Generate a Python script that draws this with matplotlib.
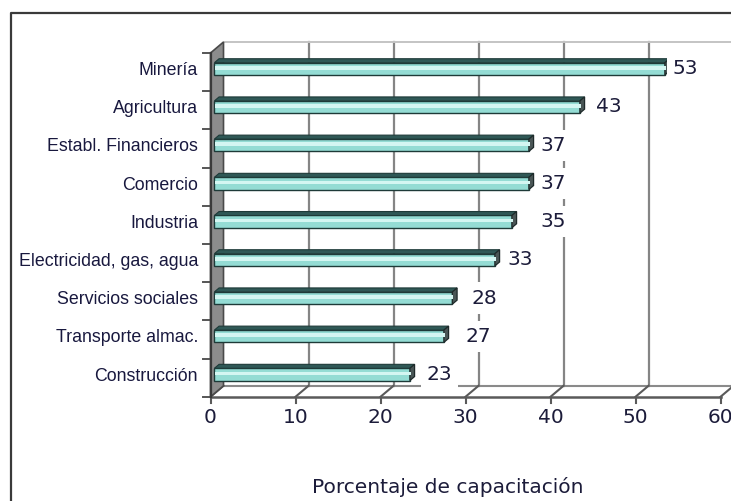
import numpy as np
import matplotlib
matplotlib.use('Agg')
import matplotlib.pyplot as plt
from matplotlib.patches import Polygon
from matplotlib.lines import Line2D

# Data
categories = ['Minería', 'Agricultura', 'Establ. Financieros', 'Comercio', 'Industria',
              'Electricidad, gas, agua', 'Servicios sociales', 'Transporte almac.', 'Construcción']
values = [53, 43, 37, 37, 35, 33, 28, 27, 23]
x_ticks = [0, 10, 20, 30, 40, 50, 60]
x_label = 'Porcentaje de capacitación'

# gap between bar end and its value label, in px (excel placed them unevenly)
label_gap_px = [3, 11, 7, 7, 24, 8, 14, 17, 12]

# fake 3d geometry (pixel based, figure is 731x501)
W, H = 731, 501
PX = 8.5          # px per percent
CAT = 38.2        # px per category
X0 = 210.5        # px of value 0 on the front plane
TOP = 53          # px of top of the front plane
DX = 13 / PX      # depth offset to the back wall
DY = -11 / CAT
F1, F2 = 0.30, 0.66   # bar front / back depth
BAR_H = 0.32

def px_x(p):
    return (p - X0) / PX

def px_y(p):
    return -0.5 + (p - TOP) / CAT

n = len(categories)
y_pos = np.arange(n)
y_min, y_max = -0.5, n - 0.5
x_max = x_ticks[-1]

fig = plt.figure(figsize=(W / 100, H / 100), dpi=100)
ax = fig.add_axes([0, 0, 1, 1])
ax.set_xlim(px_x(0), px_x(W))
ax.set_ylim(px_y(H), px_y(0))
ax.axis('off')

# outer frame (only left and top edges are inside the picture)
fl, ft = 11 / W, 1 - 13 / H
fig.add_artist(Line2D([fl, fl, 1.05], [-0.05, ft, ft], transform=fig.transFigure,
                      color='#3a3a3a', lw=1.6))

grid_c = '#858585'
# back wall gridlines + top edge
for v in x_ticks[1:]:
    ax.plot([v + DX, v + DX], [y_min + DY, y_max + DY], color=grid_c, lw=1.6, zorder=1)
ax.plot([DX, x_max + DX], [y_min + DY, y_min + DY], color='#c4c4c4', lw=1.4, zorder=1)

# floor
ax.plot([0, x_max], [y_max, y_max], color='#5a5a5a', lw=1.8, zorder=2)
ax.plot([DX, x_max + DX], [y_max + DY, y_max + DY], color='#8a8a8a', lw=1.5, zorder=1)
for v in x_ticks:
    ax.plot([v, v + DX], [y_max, y_max + DY], color='#5a5a5a', lw=1.5, zorder=2)
    ax.plot([v, v], [y_max, y_max + 6 / CAT], color='#5a5a5a', lw=1.5, zorder=2)

# left wall
wall = Polygon([(0, y_min), (0, y_max), (DX, y_max + DY), (DX, y_min + DY)],
               closed=True, fc='#8c8c8c', ec='#4a4a4a', lw=1.2, zorder=2)
ax.add_patch(wall)
for k in range(n + 1):
    ax.plot([-8 / PX, 0], [y_min + k, y_min + k], color='#555555', lw=1.4, zorder=2)
ax.plot([0, 0], [y_min, y_max], color='#3a3a3a', lw=1.6, zorder=2)

# bars
ox1, oy1 = F1 * DX, F1 * DY
ox2, oyd = F2 * DX, (F2 - F1) * DY
ax.barh(y_pos + oy1, values, height=BAR_H, left=ox1, color='#94dcd4',
        edgecolor='#1e3a38', lw=1.0, zorder=4)
ax.barh(y_pos + oy1 - BAR_H * 0.08, values, height=BAR_H * 0.3, left=ox1 + 0.1,
        color='#d4f6f2', lw=0, zorder=5)
for i, v in enumerate(values):
    top = i + oy1 - BAR_H / 2
    bot = i + oy1 + BAR_H / 2
    ax.add_patch(Polygon([(ox1, top), (v + ox1, top), (v + ox2, top + oyd), (ox2, top + oyd)],
                         closed=True, fc='#2f5856', ec='#1e3a38', lw=0.8, zorder=4))
    ax.add_patch(Polygon([(v + ox1, top), (v + ox1, bot), (v + ox2, bot + oyd), (v + ox2, top + oyd)],
                         closed=True, fc='#4a5656', ec='#1e2a2a', lw=0.9, zorder=4))
    ax.text(v + ox2 + label_gap_px[i] / PX, i + oy1, str(v), ha='left', va='center',
            fontsize=14.5, family='DejaVu Sans', color='#1c1c3a', zorder=6,
            bbox=dict(boxstyle='square,pad=0.3', fc='white', ec='none'))

# category labels
for i, c in enumerate(categories):
    ax.text(px_x(198), i - 0.04, c, ha='right', va='center', fontsize=12.8,
            family='Liberation Sans', color='#18183e', zorder=6)

# x tick labels
for v in x_ticks:
    ax.text(v, y_max + 21 / CAT, str(v), ha='center', va='center', fontsize=14.5,
            family='DejaVu Sans', color='#1c1c3a', zorder=6)

ax.text(px_x(448), px_y(487), x_label, ha='center', va='center', fontsize=14.5,
        family='DejaVu Sans', color='#1c1c3a', zorder=6)

fig.savefig('out.png', dpi=100)
